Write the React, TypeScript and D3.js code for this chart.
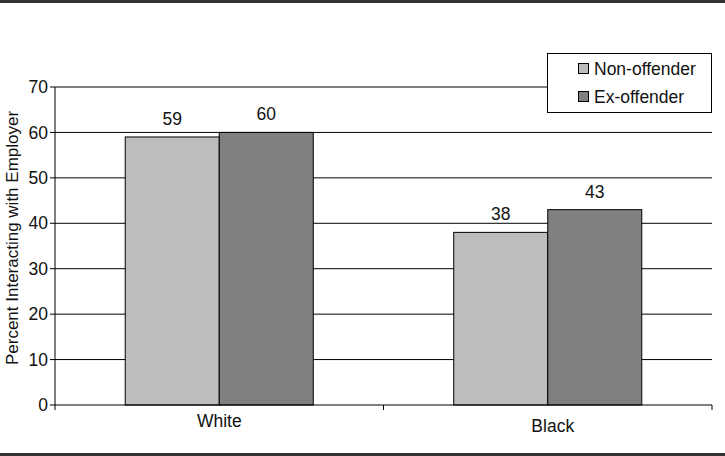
import React from "react";
import * as d3 from "d3";

const categories = ["White", "Black"];
const seriesNames = ["Non-offender", "Ex-offender"];
const nonOffender = [59, 38];
const exOffender = [60, 43];
const yTicks = [0, 10, 20, 30, 40, 50, 60, 70];
const colors = ["#bdbdbd", "#808080"];

export default function App() {
  const W = 725, H = 456;
  const left = 55, right = 712, top = 87, bottom = 405;
  const x = d3.scaleBand().domain(categories).range([left, right]).paddingInner(0).paddingOuter(0);
  const y = d3.scaleLinear().domain([0, 70]).range([bottom, top]);
  const inner = d3.scaleBand().domain(seriesNames).range([0, x.bandwidth()]).paddingInner(0).paddingOuter(0.747);
  const series = [nonOffender, exOffender];
  const font = "'Liberation Sans', Arial, sans-serif";
  const fs = 17.5;
  return (
    <svg width={W} height={H} style={{ position: "absolute", left: 0, top: 0 }} fontFamily={font}>
      <rect x={0} y={0} width={W} height={H} fill="#fff" />
      <rect x={0} y={0} width={W} height={3} fill="#333" />
      <rect x={0} y={453} width={W} height={3} fill="#333" />
      {yTicks.map((t) => (
        <g key={t}>
          {t > 0 && <line x1={left} x2={right} y1={y(t)} y2={y(t)} stroke="#000" strokeWidth={1} />}
          <line x1={left - 5} x2={left} y1={y(t)} y2={y(t)} stroke="#000" />
          <text x={left - 7} y={y(t)} dy="0.35em" textAnchor="end" fontSize={fs} fill="#111">{t}</text>
        </g>
      ))}
      {categories.map((c, ci) =>
        series.map((s, si) => {
          const bx = (x(c) as number) + (inner(seriesNames[si]) as number);
          const v = s[ci];
          return (
            <g key={c + si}>
              <rect x={bx} y={y(v)} width={inner.bandwidth()} height={bottom - y(v)} fill={colors[si]} stroke="#000" strokeWidth={1} />
              <text x={bx + inner.bandwidth() / 2} y={y(v) - 12} textAnchor="middle" fontSize={fs} fill="#111">{v}</text>
            </g>
          );
        })
      )}
      <line x1={left} x2={left} y1={top} y2={bottom} stroke="#000" />
      <line x1={left} x2={right} y1={bottom} y2={bottom} stroke="#000" />
      {[left, left + x.bandwidth(), right].map((tx, i) => (
        <line key={i} x1={tx} x2={tx} y1={bottom} y2={bottom + 5} stroke="#000" />
      ))}
      {categories.map((c, i) => (
        <text key={c} x={(x(c) as number) + x.bandwidth() / 2 + (i === 0 ? 0 : 5)} y={i === 0 ? 427 : 432} textAnchor="middle" fontSize={fs} fill="#111">{c}</text>
      ))}
      <text transform={`translate(18,238) rotate(-90)`} textAnchor="middle" fontSize={17} fill="#111">Percent Interacting with Employer</text>
      <rect x={547.5} y={53.5} width={164} height={59} fill="#fff" stroke="#000" />
      {seriesNames.map((n, i) => (
        <g key={n}>
          <rect x={578.5} y={63.5 + i * 28} width={10} height={10} fill={colors[i]} stroke="#000" />
          <text x={594} y={74.5 + i * 28} fontSize={fs} fill="#111">{n}</text>
        </g>
      ))}
    </svg>
  );
}
